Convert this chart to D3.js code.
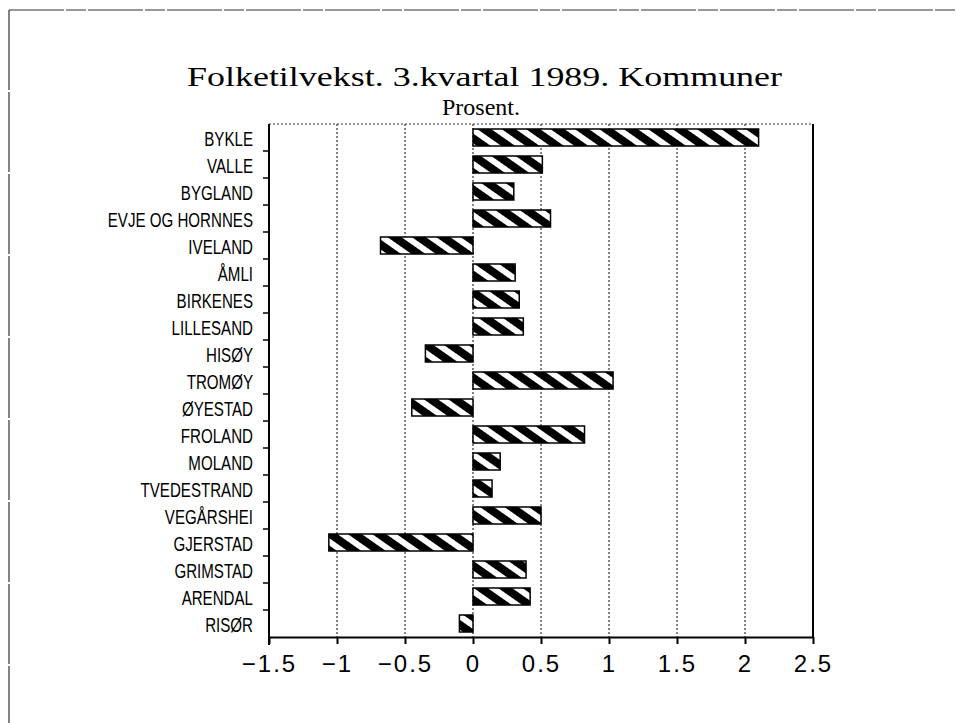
<!DOCTYPE html>
<html>
<head>
<meta charset="utf-8">
<script src="https://cdn.jsdelivr.net/npm/d3@7"></script>
<style>
body { margin: 0; background: #fff; }
</style>
</head>
<body>
<script>
var kommuner = ["BYKLE", "VALLE", "BYGLAND", "EVJE OG HORNNES", "IVELAND", "ÅMLI",
	"BIRKENES", "LILLESAND", "HISØY", "TROMØY", "ØYESTAD", "FROLAND", "MOLAND",
	"TVEDESTRAND", "VEGÅRSHEI", "GJERSTAD", "GRIMSTAD", "ARENDAL", "RISØR"];
var vekst = [2.1, 0.51, 0.3, 0.57, -0.68, 0.31, 0.34, 0.37, -0.35, 1.03, -0.45,
	0.82, 0.2, 0.14, 0.5, -1.06, 0.39, 0.42, -0.1];
var xTicks = [-1.5, -1, -0.5, 0, 0.5, 1, 1.5, 2, 2.5];

function main(){
	var w = 956;
	var h = 723;
	var left = 269, right = 813, top = 124, bottom = 637;

	var svg = d3.select("body")
				.append("svg")
				.attr("width", w)
				.attr("height", h);

	var defs = svg.append("defs");
	var pat = defs.append("pattern")
		.attr("id", "stripes")
		.attr("patternUnits", "userSpaceOnUse")
		.attr("width", 14)
		.attr("height", 14)
		.attr("patternTransform", "rotate(-55)");
	pat.append("rect").attr("width", 14).attr("height", 14).attr("fill", "white");
	pat.append("rect").attr("width", 8).attr("height", 14).attr("fill", "black");

	// outer frame
	svg.append("line")
		.attr("x1", 9).attr("y1", 10).attr("x2", w).attr("y2", 10)
		.attr("stroke", "#333").attr("stroke-width", 1.2)
		.attr("stroke-dasharray", "55 2 20 2");
	svg.append("line")
		.attr("x1", 9).attr("y1", 10).attr("x2", 9).attr("y2", h)
		.attr("stroke", "#333").attr("stroke-width", 1.2)
		.attr("stroke-dasharray", "80 2");

	// titles
	svg.append("text")
		.text("Folketilvekst. 3.kvartal 1989. Kommuner")
		.attr("x", 187).attr("y", 86)
		.attr("textLength", 595)
		.attr("lengthAdjust", "spacingAndGlyphs")
		.style("font-family", "'Liberation Serif', serif")
		.style("font-size", "27px");
	svg.append("text")
		.text("Prosent.")
		.attr("x", 481).attr("y", 115)
		.attr("text-anchor", "middle")
		.style("font-family", "'Liberation Serif', serif")
		.style("font-size", "24px");

	var x = d3.scaleLinear().domain([-1.5, 2.5]).range([left, right]);
	var y = d3.scaleBand().domain(kommuner).range([top, bottom])
		.paddingInner(0.37).paddingOuter(0.185);

	// grid lines
	svg.append("g").selectAll("line")
		.data(xTicks.slice(1, -1))
		.enter()
		.append("line")
		.attr("x1", function(d){ return x(d); })
		.attr("x2", function(d){ return x(d); })
		.attr("y1", top).attr("y2", bottom)
		.attr("stroke", "#333")
		.attr("stroke-width", 1.2)
		.attr("stroke-dasharray", "2 2");

	// top border (dotted)
	svg.append("line")
		.attr("x1", left).attr("x2", right).attr("y1", top).attr("y2", top)
		.attr("stroke", "#333").attr("stroke-width", 1.2)
		.attr("stroke-dasharray", "2 2");
	// right border
	svg.append("line")
		.attr("x1", right).attr("x2", right).attr("y1", top).attr("y2", bottom)
		.attr("stroke", "black").attr("stroke-width", 2);

	// bars
	svg.append("g").selectAll("rect")
		.data(vekst)
		.enter()
		.append("rect")
		.attr("x", function(d){ return x(Math.min(0, d)); })
		.attr("y", function(d, i){ return y(kommuner[i]); })
		.attr("width", function(d){ return Math.abs(x(d) - x(0)); })
		.attr("height", y.bandwidth())
		.attr("fill", "url(#stripes)")
		.attr("stroke", "black")
		.attr("stroke-width", 1.5);

	// bottom axis
	var xAxis = d3.axisBottom(x)
		.tickValues(xTicks)
		.tickSize(7)
		.tickSizeOuter(0)
		.tickPadding(11)
		.tickFormat(d3.format("~g"));
	var gx = svg.append("g")
		.attr("transform", "translate(0," + bottom + ")")
		.call(xAxis);
	gx.select(".domain").attr("stroke-width", 2);
	gx.selectAll(".tick line").attr("stroke-width", 2);
	gx.selectAll("text")
		.style("font-family", "'Liberation Sans', Arial, sans-serif")
		.style("font-size", "24px")
		.style("letter-spacing", "2px")
		.attr("fill", "black");

	// left axis line with ticks between categories
	svg.append("line")
		.attr("x1", left).attr("x2", left).attr("y1", top).attr("y2", bottom + 8)
		.attr("stroke", "black").attr("stroke-width", 2);
	svg.append("g").selectAll("line")
		.data(d3.range(1, kommuner.length))
		.enter()
		.append("line")
		.attr("x1", left - 6).attr("x2", left)
		.attr("y1", function(i){ return top + i * y.step(); })
		.attr("y2", function(i){ return top + i * y.step(); })
		.attr("stroke", "black").attr("stroke-width", 1.5);

	// category labels
	svg.append("g").selectAll("text")
		.data(kommuner)
		.enter()
		.append("text")
		.text(function(d){ return d; })
		.attr("text-anchor", "end")
		.attr("transform", function(d){
			return "translate(253," + (y(d) + y.bandwidth() / 2 + 8) + ") scale(0.72,1)";
		})
		.style("font-family", "'Liberation Sans', Arial, sans-serif")
		.style("font-size", "21px");
}

main();
</script>
</body>
</html>
